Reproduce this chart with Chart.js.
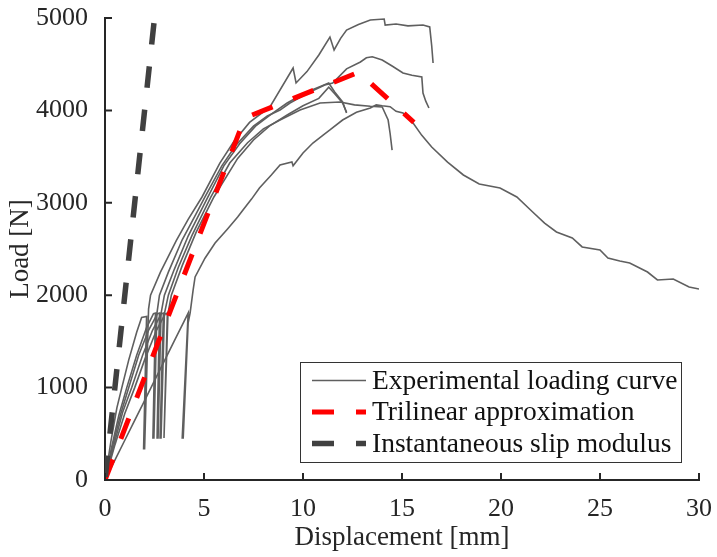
<!DOCTYPE html>
<html>
<head>
<meta charset="utf-8">
<script src="https://cdn.jsdelivr.net/npm/chart.js@4"></script>
<style>
  html, body { margin: 0; padding: 0; background: #fff; }
  canvas { display: block; }
</style>
</head>
<body>
<canvas id="c" width="717" height="557"></canvas>
<script>
// ---- Data (displacement [mm], load [N]) ----
const xTicks = [0, 5, 10, 15, 20, 25, 30];
const yTicks = [0, 1000, 2000, 3000, 4000, 5000];

const curveA = [[0,0],[0.3,420],[0.6,780],[0.85,1000],[1.2,1300],[1.6,1600],[1.85,1760],[2.1,1770],[1.95,340],[2.0,340],[2.2,1850],[2.3,2000],[2.8,2250],[3.6,2590],[4.2,2820],[4.9,3063],[5.8,3430],[6.5,3660],[7.3,3870],[8.33,4037],[9.5,4459],[9.65,4297],[10.2,4420],[10.8,4600],[11.36,4794],[11.57,4654],[11.9,4780],[12.2,4870],[12.8,4930],[13.4,4978],[14.1,4989],[14.15,4924],[14.7,4935],[15.3,4915],[16.06,4924],[16.4,4903],[16.5,4700],[16.57,4513]];
const curveB = [[0,0],[0.3,320],[0.7,700],[1.1,1000],[1.6,1350],[2.1,1650],[2.45,1800],[2.55,1807],[2.42,455],[2.47,455],[2.62,1800],[2.75,2000],[3.2,2250],[3.9,2600],[4.6,2880],[5.05,3063],[5.9,3400],[6.6,3620],[7.5,3830],[8.2,3940],[8.84,4004],[9.34,4080],[10.35,4199],[11.1,4275],[11.5,4297],[12.2,4450],[12.9,4524],[13.2,4570],[13.5,4580],[14.0,4545],[14.5,4480],[15.05,4405],[15.5,4380],[16.0,4361],[16.06,4188],[16.2,4100],[16.36,4026]];
const curveC = [[0,0],[0.4,380],[0.8,720],[1.2,1000],[1.7,1350],[2.2,1620],[2.65,1800],[2.75,1807],[2.63,455],[2.68,455],[2.83,1800],[3.0,2000],[3.5,2280],[4.2,2640],[5.2,3063],[6.0,3400],[6.8,3640],[7.6,3830],[8.4,3960],[9.2,4080],[10.2,4200],[11.0,4270],[11.3,4297],[11.6,4200],[12.0,4091],[12.2,3972]];
const curveD = [[0,0],[0.5,420],[0.9,740],[1.35,1000],[1.9,1350],[2.4,1620],[2.85,1800],[2.95,1807],[2.78,455],[2.83,455],[3.0,1800],[3.2,2000],[3.7,2300],[4.4,2650],[5.35,3063],[6.3,3430],[7.2,3650],[8.0,3800],[8.84,3896],[9.85,4004],[10.86,4080],[11.87,4091],[12.6,4060],[13.4,4045],[14.0,4037],[14.3,3896],[14.4,3750],[14.5,3571]];
const curveE = [[0,0],[0.5,380],[1.0,720],[1.5,1000],[2.0,1300],[2.6,1620],[3.05,1800],[3.15,1807],[2.98,455],[3.03,455],[3.18,1800],[3.35,2000],[3.9,2320],[4.6,2680],[5.5,3063],[6.7,3480],[7.5,3680],[8.3,3830],[9.2,3950],[10.0,4050],[10.8,4130],[11.3,4250],[11.6,4180],[12.0,4080],[12.2,3980]];
const curveF = [[0,0],[0.5,215],[1.0,430],[1.5,645],[2.0,860],[2.5,1075],[3.0,1290],[3.5,1505],[4.0,1720],[4.2,1807],[3.9,455],[3.95,455],[4.2,1700],[4.3,1810],[4.45,2056],[4.55,2197],[5.05,2400],[5.56,2565],[6.2,2720],[6.7,2846],[6.97,2922],[7.4,3040],[7.8,3160],[8.4,3300],[8.84,3409],[9.44,3442],[9.5,3400],[10.0,3540],[10.5,3647],[11.0,3730],[11.36,3788],[12.0,3896],[12.7,3980],[13.4,4026],[13.7,4060],[14.0,4050],[14.4,4040],[14.7,3990],[15.05,3972],[15.56,3864],[16.0,3730],[16.5,3604],[17.3,3441],[18.1,3301],[18.9,3203],[19.95,3160],[20.8,3063],[21.6,2900],[22.2,2780],[22.8,2684],[23.6,2619],[24.1,2522],[25.0,2489],[25.4,2403],[26.0,2370],[26.5,2348],[27.4,2251],[27.9,2165],[28.7,2175],[29.5,2089],[30.0,2067]];
const experimental = [curveA, curveB, curveC, curveD, curveE, curveF];

const trilinear = [[0,0],[7.06,3918],[12.81,4413],[15.6,3870]];
const instantaneous = [[0,0],[2.5,5000]];

const legendLabels = ['Experimental loading curve', 'Trilinear approximation', 'Instantaneous slip modulus'];

// ---- Styles ----
const FONT = '"Liberation Serif", "Times New Roman", serif';
const GRAY = '#5f5f5f';
const RED = '#ff0000';
const DARK = '#404040';
const AXIS = '#262626';

const toXY = arr => arr.map(p => ({x: p[0], y: p[1]}));

const datasets = [];
experimental.forEach((c, i) => datasets.push({
  label: i === 0 ? legendLabels[0] : '',
  data: toXY(c), showLine: true, pointRadius: 0, borderColor: GRAY, borderWidth: 1.6,
  tension: 0, fill: false, order: 2
}));
datasets.push({label: legendLabels[1], data: toXY(trilinear), showLine: true, pointRadius: 0,
  borderColor: RED, borderWidth: 5, borderDash: [22, 22], borderCapStyle: 'butt', order: 1});
datasets.push({label: legendLabels[2], data: toXY(instantaneous), showLine: true, pointRadius: 0,
  borderColor: DARK, borderWidth: 5.5, borderDash: [21.5, 22], borderDashOffset: -3, borderCapStyle: 'butt', order: 0});

const inwardTicks = {
  id: 'inwardTicks',
  afterDraw(chart) {
    const {ctx, scales: {x, y}} = chart;
    ctx.save();
    ctx.strokeStyle = AXIS;
    ctx.lineWidth = 2;
    ctx.beginPath();
    xTicks.forEach(v => { const px = x.getPixelForValue(v); ctx.moveTo(px, y.bottom); ctx.lineTo(px, y.bottom - 7); });
    yTicks.forEach(v => { const py = y.getPixelForValue(v); ctx.moveTo(x.left, py); ctx.lineTo(x.left + 7, py); });
    ctx.stroke();
    ctx.restore();
  }
};

const boxLegend = {
  id: 'boxLegend',
  afterDraw(chart) {
    const {ctx, chartArea: a} = chart;
    const right = a.right - 18, bottom = a.bottom - 18;
    const left = right - 381, top = bottom - 100;
    ctx.save();
    ctx.fillStyle = '#fff';
    ctx.fillRect(left, top, right - left, bottom - top);
    ctx.strokeStyle = '#333';
    ctx.lineWidth = 1;
    ctx.strokeRect(left + 0.5, top + 0.5, right - left, bottom - top);
    const rows = [top + 18.5, top + 50, top + 81.5];
    const styles = [
      {c: GRAY, w: 1.6, d: []},
      {c: RED, w: 5, d: [22, 22]},
      {c: DARK, w: 5.5, d: [22, 22]}
    ];
    rows.forEach((ry, i) => {
      ctx.beginPath();
      ctx.setLineDash(styles[i].d);
      ctx.strokeStyle = styles[i].c;
      ctx.lineWidth = styles[i].w;
      ctx.lineCap = 'butt';
      ctx.moveTo(left + 12, ry);
      ctx.lineTo(left + 66, ry);
      ctx.stroke();
      ctx.setLineDash([]);
      ctx.fillStyle = '#111';
      ctx.font = '27.5px ' + FONT;
      ctx.textBaseline = 'middle';
      ctx.textAlign = 'left';
      ctx.fillText(legendLabels[i], left + 72, ry + 1);
    });
    ctx.restore();
  }
};

new Chart(document.getElementById('c'), {
  type: 'scatter',
  data: {datasets},
  options: {
    responsive: false,
    animation: false,
    layout: {padding: {left: 0, right: 18, top: 18, bottom: 0}},
    plugins: {legend: {display: false}, tooltip: {enabled: false}},
    scales: {
      x: {
        type: 'linear', min: 0, max: 30,
        afterBuildTicks: s => { s.ticks = xTicks.map(v => ({value: v})); },
        afterFit: s => { s.height = 77; s.paddingLeft = 0; s.paddingRight = 0; },
        grid: {display: false},
        border: {display: true, color: AXIS, width: 2},
        ticks: {font: {family: FONT, size: 26}, color: AXIS, padding: 6, maxRotation: 0, callback: v => String(v)},
        title: {display: true, text: 'Displacement [mm]', font: {family: FONT, size: 27}, color: AXIS, padding: {top: 0, bottom: 3}}
      },
      y: {
        type: 'linear', min: 0, max: 5000,
        afterBuildTicks: s => { s.ticks = yTicks.map(v => ({value: v})); },
        afterFit: s => { s.width = 105; s.paddingTop = 0; s.paddingBottom = 0; },
        grid: {display: false},
        border: {display: true, color: AXIS, width: 2},
        ticks: {font: {family: FONT, size: 26}, color: AXIS, padding: 9, callback: v => String(v)},
        title: {display: true, text: 'Load [N]', font: {family: FONT, size: 27}, color: AXIS, padding: {top: 5, bottom: 0}}
      }
    }
  },
  plugins: [inwardTicks, boxLegend]
});
</script>
</body>
</html>
